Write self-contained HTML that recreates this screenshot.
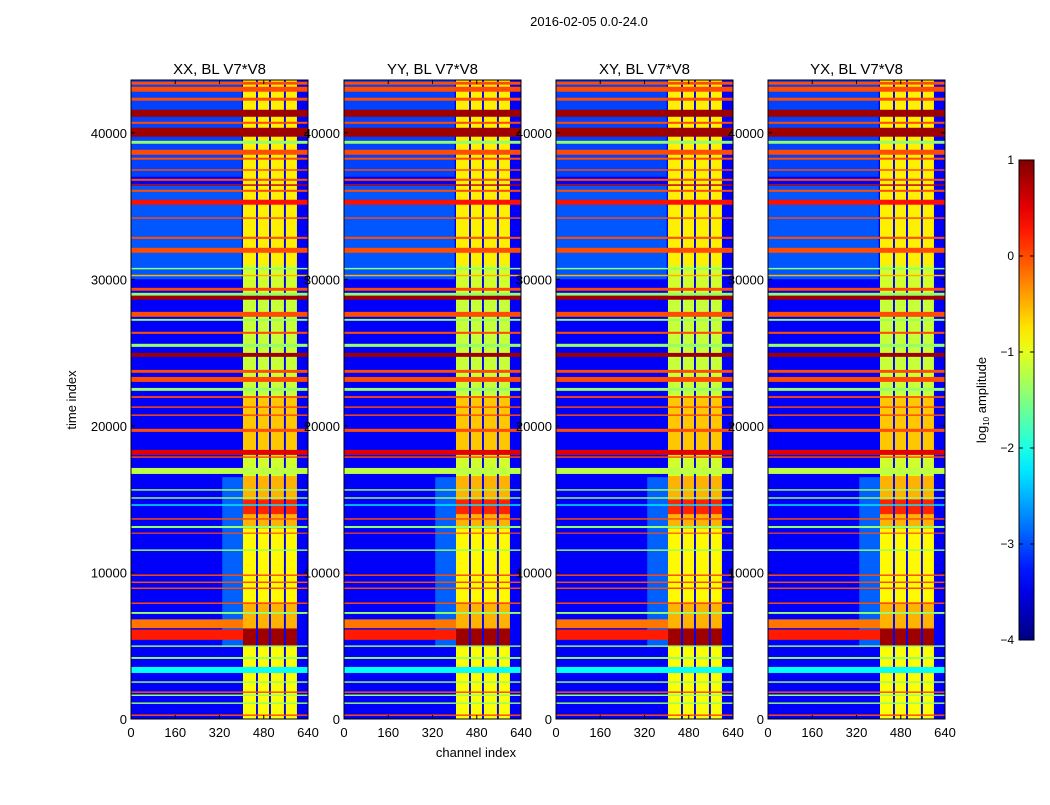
<!DOCTYPE html>
<html><head><meta charset="utf-8"><style>
body{margin:0;background:#fff;}
svg text{font-family:"Liberation Sans",sans-serif;fill:#000;}
</style></head><body>
<svg id="fig" width="1050" height="800" viewBox="0 0 1050 800" xmlns="http://www.w3.org/2000/svg">
<rect width="1050" height="800" fill="#fff"/>
<text x="589" y="26" font-size="13" text-anchor="middle">2016-02-05 0.0-24.0</text>
<text transform="translate(76,400) rotate(-90)" font-size="13" text-anchor="middle">time index</text>
<text x="476" y="757" font-size="13" text-anchor="middle">channel index</text>
<g id="panels"></g>
<g id="cbar"></g>
</svg>
<script>
const panelTitles = ["XX, BL V7*V8","YY, BL V7*V8","XY, BL V7*V8","YX, BL V7*V8"];
const xTicks = [0,160,320,480,640];
const yTicks = [0,10000,20000,30000,40000];
const cbTicks = [1,0,-1,-2,-3,-4];
const chanMax = 640, timeMax = 43600;
const vmin = -4, vmax = 1;
const bgLevel = -3.4;
// channel sub-band edges of the bright band region [start,end]
const subBands = [[405,452],[459,499],[506,553],[560,600]];
// background patches [chan0,chan1,t0,t1,value]
const bgPatches = [[0,400,30000,36500,-2.95],[0,400,37000,43600,-3.05],[330,405,5000,16500,-2.9],[0,405,6200,6800,-0.2],[0,405,5400,6100,0.25]];
// band-region level by time [t0,t1,value]
const bandSeg = [[0,5000,-0.9],[5000,6200,0.85],[6200,8000,-0.5],[8000,13000,-0.85],[13000,14000,-0.5],[14000,15000,0.2],[15000,16600,-0.5],[16600,18000,-1.1],[18000,22000,-0.6],[22000,28600,-1.15],[28600,31000,-1.1],[31000,36000,-0.8],[36000,43600,-0.8]];
// horizontal stripes [t0,t1,value]
const stripes = [[43280,43480,0],[42800,43140,0],[42190,42390,0],[41090,41570,0.85],[40610,40750,0],[39730,40340,0.85],[39250,39450,-1.4],[38500,38840,0],[38160,38300,0],[37410,37510,0],[36720,36860,0],[36380,36480,0.7],[35970,36110,0],[35090,35430,0.3],[34130,34230,0],[32760,32900,0],[31810,32150,0],[30680,30780,-1.4],[30210,30310,-0.5],[29220,29420,0],[28880,29080,-1.4],[28610,28880,0.85],[27440,27780,0],[27170,27300,-1.4],[26280,26420,0],[25390,25600,-1.4],[24710,24980,0.85],[23620,23820,0],[23000,23340,0],[22390,22590,-1.4],[21910,22030,0],[21230,21330,0],[20680,20780,0],[19590,19800,0],[18020,18360,0.5],[17820,17920,0],[16720,17130,-1.2],[15580,15680,-1.4],[15030,15130,-1.4],[14550,14650,-2.2],[13600,13700,0],[13030,13170,-1.4],[12650,12720,0],[11470,11570,-1.4],[9760,9860,0],[9280,9380,0],[8870,8970,0],[7850,7950,0],[7170,7300,-1.4],[4920,5020,-1.4],[4100,4230,-1.4],[3140,3550,-2.1],[2470,2570,-1.4],[1780,1880,0],[1570,1670,-1.4],[1030,1130,-1.4],[210,310,0]];
const panelX = [131,344,556,768];
const panelW = 177, plotTop = 80, plotBot = 719;

function jet(v){
  let p=(v-vmin)/(vmax-vmin); p=Math.max(0,Math.min(1,p));
  const c=x=>Math.round(255*Math.max(0,Math.min(1,x)));
  const r=c(Math.min(4*p-1.5,-4*p+4.5)), g=c(Math.min(4*p-0.5,-4*p+3.5)), b=c(Math.min(4*p+0.5,-4*p+2.5));
  return `rgb(${r},${g},${b})`;
}
const NS="http://www.w3.org/2000/svg";
function mk(tag,attrs,parent){const e=document.createElementNS(NS,tag);for(const k in attrs)e.setAttribute(k,attrs[k]);parent.appendChild(e);return e;}
const yScale=t=>plotBot-(t/timeMax)*(plotBot-plotTop);
const panelsG=document.getElementById('panels');
panelTitles.forEach((title,pi)=>{
  const x0=panelX[pi]; const xs=c=>x0+c/chanMax*panelW;
  const g=mk('g',{},panelsG);
  
  
  const bg=mk('rect',{x:x0,y:plotTop,width:panelW,height:plotBot-plotTop,fill:jet(bgLevel)},g);
  
  
  bgPatches.forEach(p=>{
    const r=mk('rect',{x:xs(p[0]),y:yScale(p[3]),width:xs(p[1])-xs(p[0]),height:yScale(p[2])-yScale(p[3]),fill:jet(p[4])},g);
    
    
  });
  subBands.forEach(sb=>bandSeg.forEach(s=>{
    const r=mk('rect',{x:xs(sb[0]),y:yScale(s[1]),width:xs(sb[1])-xs(sb[0]),height:yScale(s[0])-yScale(s[1])+0.3,fill:jet(s[2])},g);
    
    
  }));
  stripes.forEach(s=>{
    const h=Math.max(1.2,yScale(s[0])-yScale(s[1]));
    const r=mk('rect',{x:x0,y:yScale(s[1]),width:panelW,height:h,fill:jet(s[2])},g);
    
    
  });
  const fr=mk('rect',{x:x0,y:plotTop,width:panelW,height:plotBot-plotTop,fill:'none',stroke:'#000','stroke-width':1},g);
  
  
  const t=mk('text',{x:x0+panelW/2,y:74,'font-size':15,'text-anchor':'middle'},g); t.textContent=title;
  
  
  xTicks.forEach(v=>{
    const x=xs(v);
    mk('line',{x1:x,x2:x,y1:plotBot,y2:plotBot-4,stroke:'#000'},g);
    mk('line',{x1:x,x2:x,y1:plotTop,y2:plotTop+4,stroke:'#000'},g);
    const l=mk('text',{x:x,y:737,'font-size':13,'text-anchor':'middle'},g); l.textContent=v;
    
    
  });
  yTicks.forEach(v=>{
    const y=yScale(v);
    mk('line',{x1:x0,x2:x0+4,y1:y,y2:y,stroke:'#000'},g);
    mk('line',{x1:x0+panelW,x2:x0+panelW-4,y1:y,y2:y,stroke:'#000'},g);
    const l=mk('text',{x:x0-4,y:y+5,'font-size':13,'text-anchor':'end'},g); l.textContent=v;
    
    
  });
});
// colorbar
const cb=document.getElementById('cbar');


const cbX=1019,cbW=15,cbT=160,cbB=640;
const defs=mk('defs',{},cb);
const grad=mk('linearGradient',{id:'jetg',x1:0,y1:1,x2:0,y2:0},defs);
for(let i=0;i<=20;i++){mk('stop',{offset:i/20,'stop-color':jet(vmin+(vmax-vmin)*i/20)},grad);}
mk('rect',{x:cbX,y:cbT,width:cbW,height:cbB-cbT,fill:'url(#jetg)',stroke:'#000'},cb);
cbTicks.forEach(v=>{
  const y=cbB-(v-vmin)/(vmax-vmin)*(cbB-cbT);
  mk('line',{x1:cbX,x2:cbX+4,y1:y,y2:y,stroke:'#000'},cb);
  mk('line',{x1:cbX+cbW,x2:cbX+cbW-4,y1:y,y2:y,stroke:'#000'},cb);
  const l=mk('text',{x:1014,y:y+4,'font-size':12,'text-anchor':'end'},cb); l.textContent=v<0?'\u2212'+(-v):v;
  
  
});
const cl=mk('text',{transform:'translate(986,400) rotate(-90)','font-size':13,'text-anchor':'middle'},cb);
cl.innerHTML='log<tspan font-size="8" dy="3">10</tspan><tspan dy="-3"> amplitude</tspan>';


</script>
</body></html>
